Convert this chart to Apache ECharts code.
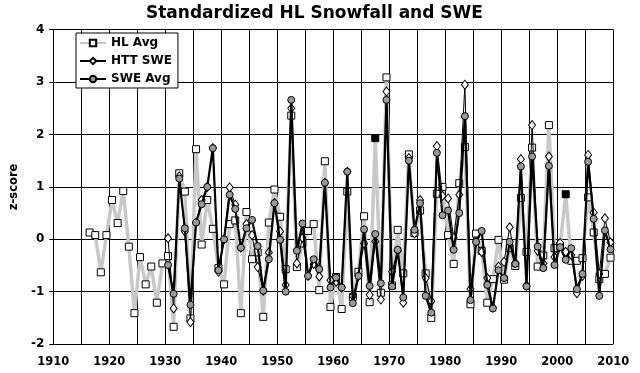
<!DOCTYPE html>
<html>
<head>
<meta charset="utf-8">
<script src="https://cdn.jsdelivr.net/npm/echarts@6/dist/echarts.min.js"></script>
<style>
html,body{margin:0;padding:0;background:#fff;}
#chart{width:640px;height:373px;}
</style>
</head>
<body>
<div id="chart"></div>
<script>
// Season start years (plotted at mid-season)
var hlYears = [1916,1917,1918,1919,1920,1921,1922,1923,1924,1925,1926,1927,1928,1929,
  1930,1931,1932,1933,1934,1935,1936,1937,1938,1939,1940,1941,1942,1943,1944,1945,1946,1947,1948,1949,
  1950,1951,1952,1953,1954,1955,1956,1957,1958,1959,1960,1961,1962,1963,1964,1965,1966,1967,1968,1969,
  1970,1971,1972,1973,1974,1975,1976,1977,1978,1979,1980,1981,1982,1983,1984,1985,1986,1987,1988,1989,
  1990,1991,1992,1993,1994,1995,1996,1997,1998,1999,2000,2001,2002,2003,2004,2005,2006,2007,2008,2009];
var hlAvg = [0.13,0.08,-0.63,0.08,0.75,0.31,0.92,-0.14,-1.41,-0.34,-0.86,-0.52,-1.21,-0.46,
  -0.32,-1.67,1.26,0.91,-1.51,1.72,-0.10,0.75,0.20,-0.55,-0.86,0.29,0.36,-1.41,0.52,-0.38,-0.25,-1.48,0.32,0.95,
  0.43,-0.57,2.36,-0.53,-0.08,0.16,0.29,-0.97,1.49,-1.29,-0.72,-1.33,0.91,-1.10,-0.62,0.44,-1.20,1.93,-1.02,3.09,
  -0.88,0.18,-0.65,1.62,0.12,0.55,-0.65,-1.50,0.87,1.00,0.08,-0.47,1.07,1.76,-1.24,0.11,-0.22,-1.21,-0.76,-0.01,
  -0.77,-0.17,-0.51,0.79,-0.24,1.75,-0.52,-0.31,2.18,-0.17,-0.13,0.86,-0.41,-0.41,-0.36,0.80,0.13,-0.76,-0.66,-0.35];
// Years whose HL value is drawn as a filled (estimated) square
var hlEstimatedYears = [1967, 2001];

var sweYears = [1930,1931,1932,1933,1934,1935,1936,1937,1938,1939,1940,1941,1942,1943,1944,1945,1946,1947,1948,1949,
  1950,1951,1952,1953,1954,1955,1956,1957,1958,1959,1960,1961,1962,1963,1964,1965,1966,1967,1968,1969,
  1970,1971,1972,1973,1974,1975,1976,1977,1978,1979,1980,1981,1982,1983,1984,1985,1986,1987,1988,1989,
  1990,1991,1992,1993,1994,1995,1996,1997,1998,1999,2000,2001,2002,2003,2004,2005,2006,2007,2008,2009];
var httSwe = [0.02,-1.32,1.20,0.15,-1.58,0.32,0.75,1.00,1.74,-0.62,0.00,0.99,0.66,-0.16,0.29,0.08,-0.53,-0.98,-0.25,0.69,
  0.15,-0.87,2.50,-0.46,0.03,-0.70,-0.47,-0.71,1.08,-0.78,-0.81,-0.92,1.29,-1.08,-0.70,-0.08,-1.06,-0.04,-1.15,2.82,
  -0.62,-0.22,-1.21,1.55,0.11,0.75,-0.74,-1.18,1.78,0.83,0.78,0.03,0.85,2.95,-0.95,-0.05,-0.24,-0.74,-1.30,-0.52,
  -0.43,0.23,-0.45,1.53,-0.88,2.18,-0.22,-0.46,1.58,-0.34,-0.07,-0.24,-0.30,-1.03,-0.70,1.61,0.51,-0.66,0.40,-0.06];
var sweAvg = [-0.49,-1.04,1.16,0.21,-1.25,0.32,0.67,1.00,1.74,-0.59,0.00,0.85,0.58,-0.16,0.21,0.37,-0.13,-0.98,-0.38,0.69,
  -0.01,-1.00,2.66,-0.22,0.30,-0.70,-0.38,-0.57,1.08,-0.92,-0.73,-0.92,1.29,-1.22,-0.70,0.19,-0.89,0.10,-0.84,2.66,
  -0.90,-0.20,-1.11,1.50,0.18,0.69,-1.08,-1.40,1.65,0.46,0.55,-0.20,0.50,2.35,-1.16,-0.05,0.16,-0.87,-1.32,-0.59,
  -0.74,-0.05,-0.47,1.39,-0.90,1.58,-0.14,-0.55,1.40,-0.49,-0.15,-0.39,-0.17,-0.95,-0.66,1.48,0.39,-1.08,0.17,-0.19];

var title = 'Standardized HL Snowfall and SWE';
var seriesNames = ['HL Avg', 'HTT SWE', 'SWE Avg'];
var yAxisName = 'z-score';

var FONT = 'DejaVu Sans';
function mid(y){ return y + 0.5; }

var hlData = hlYears.map(function(y, i){
  var item = { value: [mid(y), hlAvg[i]] };
  if (hlEstimatedYears.indexOf(y) >= 0) item.itemStyle = { color: '#000' };
  return item;
});
var httData = sweYears.map(function(y, i){ return [mid(y), httSwe[i]]; });
var sweData = sweYears.map(function(y, i){ return [mid(y), sweAvg[i]]; });

var chart = echarts.init(document.getElementById('chart'), null, {renderer: 'canvas'});
chart.setOption({
  animation: false,
  backgroundColor: '#fff',
  title: {
    text: title, left: 141, top: 0,
    textStyle: { fontFamily: FONT, fontWeight: 'bold', fontSize: 17, color: '#000' }
  },
  grid: { left: 38.8, right: 26.7, top: 29.7, bottom: 28.9, containLabel: false },
  legend: {
    data: seriesNames,
    orient: 'vertical', left: 76, top: 33,
    backgroundColor: '#fff', borderColor: '#000', borderWidth: 1,
    padding: [4, 6, 3, 3], itemGap: 6, itemWidth: 26, itemHeight: 8,
    textStyle: { fontFamily: FONT, fontWeight: 'bold', fontSize: 12, color: '#000' }
  },
  xAxis: {
    type: 'value', min: 1910, max: 2010, interval: 5,
    axisLine: { show: true, lineStyle: { color: '#000', width: 1 } },
    axisTick: { show: true, length: 4, lineStyle: { color: '#000' } },
    splitLine: { show: true, lineStyle: { color: '#000', width: 1 } },
    axisLabel: {
      margin: 12, color: '#000', fontFamily: FONT, fontWeight: 'bold', fontSize: 11.5,
      formatter: function(v){ return v % 10 === 0 ? String(v) : ''; }
    }
  },
  yAxis: {
    type: 'value', min: -2, max: 4, interval: 1,
    name: yAxisName, nameLocation: 'middle', nameGap: 27, nameRotate: 90,
    nameTextStyle: { fontFamily: FONT, fontWeight: 'bold', fontSize: 11.5, color: '#000' },
    axisLine: { show: true, lineStyle: { color: '#000', width: 1 } },
    axisTick: { show: true, length: 4, lineStyle: { color: '#000' } },
    splitLine: { show: true, lineStyle: { color: '#000', width: 1 } },
    axisLabel: { margin: 9, color: '#000', fontFamily: FONT, fontWeight: 'bold', fontSize: 12 }
  },
  series: [
    {
      name: seriesNames[0], type: 'line', data: hlData,
      symbol: 'rect', symbolSize: 7,
      lineStyle: { color: '#c8c8c8', width: 3.5 },
      itemStyle: { color: '#fff', borderColor: '#000', borderWidth: 1 },
      z: 2
    },
    {
      name: seriesNames[1], type: 'line', data: httData,
      symbol: 'diamond', symbolSize: [7, 9],
      lineStyle: { color: '#000', width: 1 },
      itemStyle: { color: '#fff', borderColor: '#000', borderWidth: 1 },
      z: 3
    },
    {
      name: seriesNames[2], type: 'line', data: sweData,
      symbol: 'circle', symbolSize: 7,
      lineStyle: { color: '#000', width: 2.2 },
      itemStyle: { color: '#9a9a9a', borderColor: '#000', borderWidth: 1 },
      z: 4
    }
  ]
});
</script>
</body>
</html>
